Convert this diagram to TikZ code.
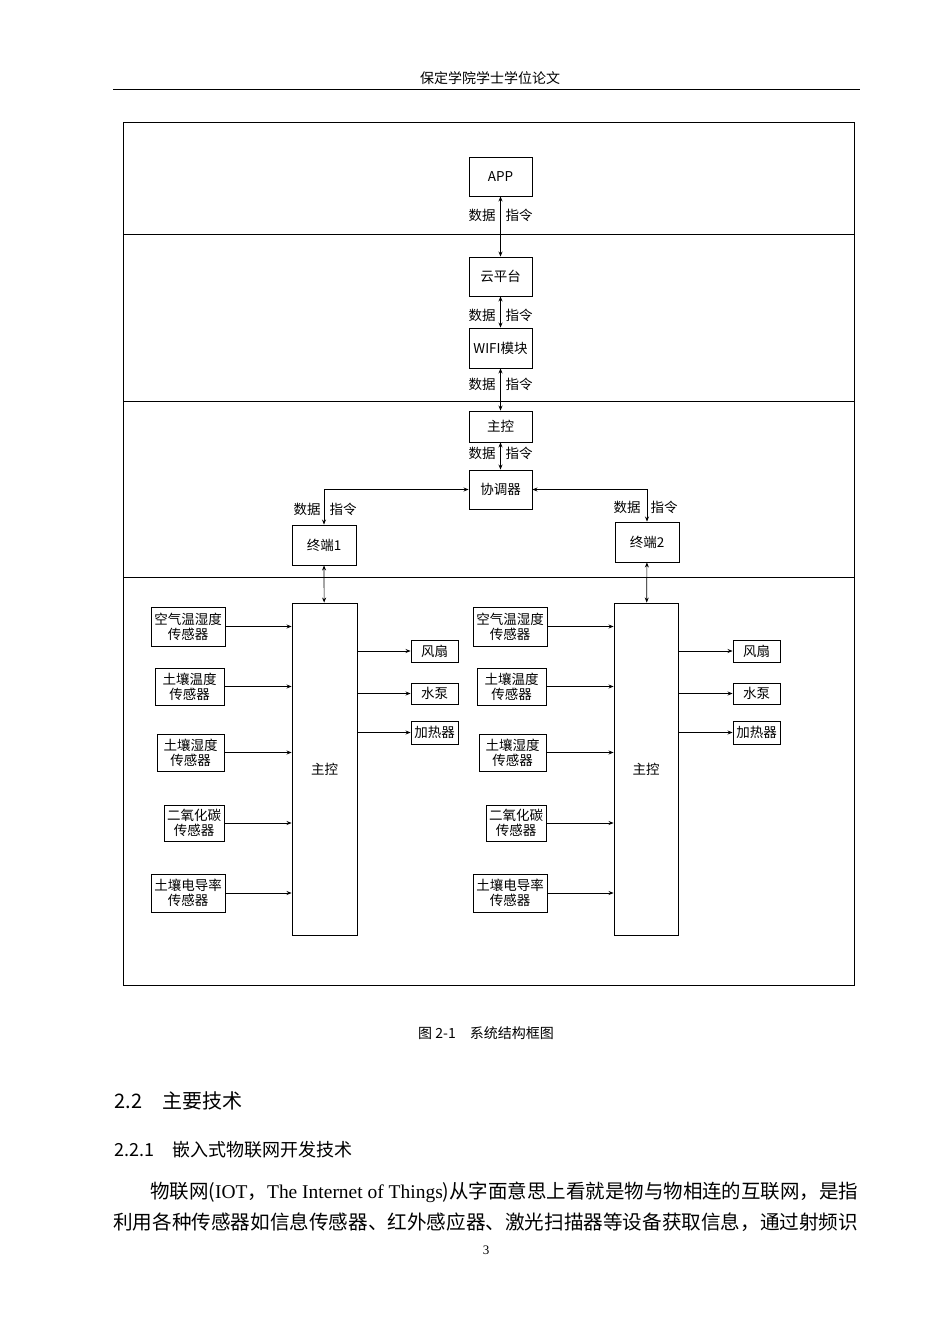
\documentclass[tikz,border=0pt]{standalone}
\usepackage{fontspec}
\setmainfont{Liberation Serif}
\newfontfamily\cjk{Noto Sans CJK SC}
\usetikzlibrary{arrows.meta}
\begin{document}
\begin{tikzpicture}[x=1pt,y=-1pt,
  bx/.style={draw,line width=0.9pt,inner sep=0pt,font=\cjk\fontsize{13.5}{15}\selectfont,align=center},
  lab/.style={font=\cjk\fontsize{13.5}{15}\selectfont,inner sep=0pt},
  ar/.style={-{Stealth[length=5pt,width=4pt]},line width=0.7pt},
  dar/.style={{Stealth[length=5pt,width=4pt]}-{Stealth[length=5pt,width=4pt]},line width=0.7pt}]
\useasboundingbox[fill=white] (0,0) rectangle (950,1344);
% header
\node[font=\cjk\fontsize{14}{16}\selectfont] (hd) at (490,78) {保定学院学士学位论文};
\draw[line width=0.8pt] (113,89) coordinate (h1) -- (860,89) coordinate (h2);
% frame
\draw[line width=0.8pt] (123,122) rectangle (854,985);
\foreach \yy in {234,401,577} \draw[line width=0.8pt] (123,\yy) -- (854,\yy);
\newcommand{\bxr}[5]{\node[bx,minimum width={(#3)-(#2)},minimum height={(#5)-(#4)}] (#1) at ({((#2)+(#3))/2},{((#4)+(#5))/2})}
\bxr{app}{469}{532}{157}{196} {APP};
\bxr{cloud}{469}{532}{257}{296} {云平台};
\bxr{wifi}{469}{532}{328}{368} {WIFI模块};
\bxr{mc}{469}{532}{411}{442} {主控};
\bxr{co}{469}{532}{470}{509} {协调器};
\bxr{t1}{292}{356}{525}{565} {终端1};
\bxr{t2}{615}{679}{522}{562} {终端2};
\bxr{m1}{292}{357}{603}{935} {主控};
\bxr{m2}{614}{678}{603}{935} {主控};
\draw[dar] (app) -- (cloud);
\draw[dar] (cloud) -- (wifi);
\draw[dar] (wifi) -- (mc);
\draw[dar] (mc) -- (co);
\foreach \yy in {215,315,384,453}{\node[lab] at (482,\yy) {数据};\node[lab] at (519,\yy) {指令};}
\draw[dar] (co.west) -| (t1.north);
\draw[dar] (co.east) -| (t2.north);
\node[lab] at (307,509) {数据};\node[lab] at (343,509) {指令};
\node[lab] at (627,507) {数据};\node[lab] at (664,507) {指令};
\draw[dar] (t1) -- (m1);
\draw[dar] (t2) -- (m2);
% sensors
\foreach \s/\dx in {L/0,R/322}{
 \bxr{a\s}{151+\dx}{225+\dx}{607}{646} {空气温湿度\\传感器};
 \bxr{b\s}{155+\dx}{224+\dx}{668}{705} {土壤温度\\传感器};
 \bxr{c\s}{157+\dx}{224+\dx}{734}{771} {土壤湿度\\传感器};
 \bxr{d\s}{164+\dx}{224+\dx}{805}{841} {二氧化碳\\传感器};
 \bxr{e\s}{151+\dx}{225+\dx}{874}{912} {土壤电导率\\传感器};
 \bxr{f\s}{411+\dx}{458+\dx}{640}{662} {风扇};
 \bxr{g\s}{411+\dx}{458+\dx}{683}{704} {水泵};
 \bxr{h\s}{411+\dx}{458+\dx}{721}{744} {加热器};
}
\foreach \s/\m in {L/m1,R/m2}{
 \foreach \n in {a,b,c,d,e} \draw[ar] (\n\s.east) -- (\n\s.east -| \m.west);
 \foreach \n in {f,g,h} \draw[ar] (\n\s.west -| \m.east) -- (\n\s.west);
}
% caption and text
\node[font=\cjk\fontsize{14}{16}\selectfont] (cap) at (486,1033) {图 2-1\quad 系统结构框图};
\node[anchor=west,font=\cjk\fontsize{20}{22}\selectfont] (s1) at (111,1101) {2.2\quad 主要技术};
\node[anchor=west,font=\cjk\fontsize{18}{20}\selectfont] (s2) at (111,1150) {2.2.1\quad 嵌入式物联网开发技术};
\node[anchor=west,inner sep=0pt] (p1) at (150,1192) {\resizebox{708pt}{!}{\cjk 物联网(\rmfamily IOT\cjk，\rmfamily The Internet of Things\cjk)从字面意思上看就是物与物相连的互联网，是指}};
\node[anchor=west,inner sep=0pt] (p2) at (113,1222) {\resizebox{745pt}{!}{\cjk 利用各种传感器如信息传感器、红外感应器、激光扫描器等设备获取信息，通过射频识}};
\node[font=\fontsize{13}{15}\selectfont] (pg) at (486,1250) {3};
\end{tikzpicture}
\end{document}
